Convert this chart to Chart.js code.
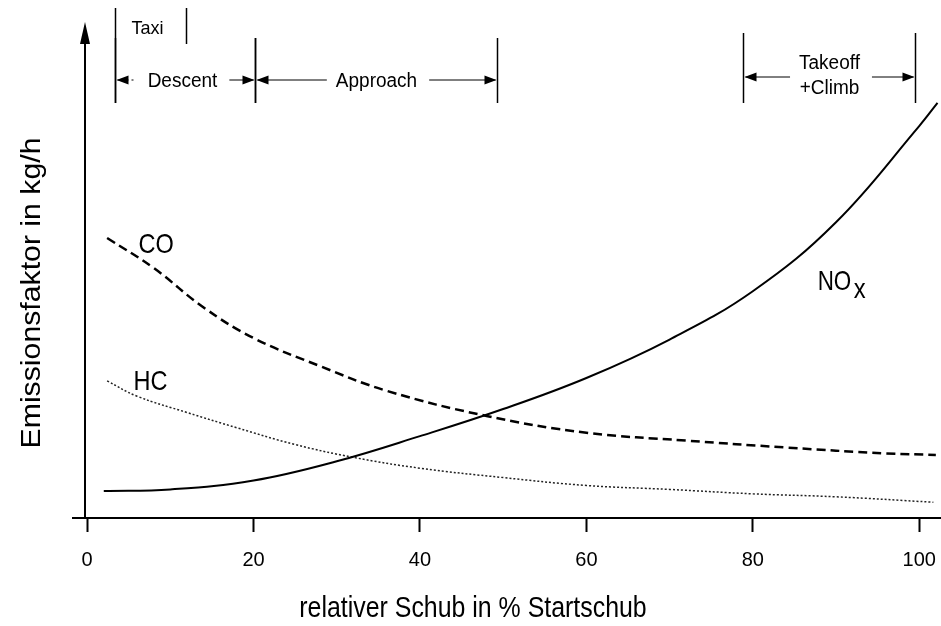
<!DOCTYPE html>
<html>
<head>
<meta charset="utf-8">
<script src="https://cdn.jsdelivr.net/npm/chart.js@4.4.1/dist/chart.umd.min.js"></script>
<style>
  body { margin: 0; background: #fff; }
  #wrap { width: 941px; height: 626px; position: relative; }
</style>
</head>
<body>
<div id="wrap"><canvas id="chart"></canvas></div>
<script>
// relative thrust (% takeoff thrust) vs emission factor (the y axis has no scale)
const NOX_X = [2, 10, 20, 30, 40, 50, 60, 70, 80, 90, 100, 102.2];
const NOX_Y = [5.5, 5.8, 7.6, 11.5, 16.6, 22.1, 28.4, 36.2, 46.0, 60.0, 79.5, 84.2];
const CO_X = [2.4, 8, 14, 20, 28, 36, 48, 60, 72, 84, 96, 102];
const CO_Y = [56.8, 50.7, 42.7, 36.5, 30.8, 25.8, 20.7, 17.3, 15.7, 14.3, 13.1, 12.8];
const HC_X = [2.4, 6, 12, 18, 25, 32, 40, 50, 60, 70, 80, 90, 101.7];
const HC_Y = [27.8, 24.7, 21.4, 18.3, 14.9, 12.3, 10.1, 8.2, 6.6, 5.8, 4.9, 4.3, 3.2];

const X_TICKS = [0, 20, 40, 60, 80, 100];

// flight phases, bounds in % thrust
const PHASE_NAMES = ['Taxi', 'Descent', 'Approach', 'Takeoff|+Climb'];
const PHASE_FROM = [3.4, 3.4, 20.2, 78.8];
const PHASE_TO = [11.9, 20.2, 49.3, 99.5];

const FONT = '"Liberation Sans", Arial, Helvetica, sans-serif';

function toPoints(xs, ys) {
    return xs.map((x, i) => ({ x: x, y: ys[i] }));
}

function drawText(ctx, text, x, y, size, sx, align, baseline) {
    ctx.save();
    ctx.translate(x, y);
    ctx.scale(sx, 1);
    ctx.font = size + 'px ' + FONT;
    ctx.fillStyle = '#000';
    ctx.textAlign = align || 'center';
    ctx.textBaseline = baseline || 'middle';
    ctx.fillText(text, 0, 0);
    ctx.restore();
}

// filled arrow head, tip at (x, y)
function arrowHead(ctx, x, y, dir, len, half) {
    ctx.beginPath();
    if (dir === 'left') {
        ctx.moveTo(x, y); ctx.lineTo(x + len, y - half); ctx.lineTo(x + len, y + half);
    } else if (dir === 'right') {
        ctx.moveTo(x, y); ctx.lineTo(x - len, y - half); ctx.lineTo(x - len, y + half);
    } else {
        ctx.moveTo(x, y); ctx.lineTo(x - half, y + len); ctx.lineTo(x + half, y + len);
    }
    ctx.closePath();
    ctx.fill();
}

function vline(ctx, x, y1, y2) {
    ctx.beginPath();
    ctx.moveTo(x, y1);
    ctx.lineTo(x, y2);
    ctx.stroke();
}

function hline(ctx, x1, x2, y) {
    ctx.beginPath();
    ctx.moveTo(x1, y);
    ctx.lineTo(x2, y);
    ctx.stroke();
}

const decorPlugin = {
    id: 'decor',
    afterDraw(chart) {
        const ctx = chart.ctx;
        const xs = chart.scales.x;
        const ys = chart.scales.y;
        const area = chart.chartArea;
        ctx.save();
        ctx.strokeStyle = '#000';
        ctx.fillStyle = '#000';

        // y axis with arrow
        const ax = Math.round(xs.getPixelForValue(-0.2));
        ctx.lineWidth = 2;
        vline(ctx, ax, area.bottom + 1, area.top + 12);
        arrowHead(ctx, ax, area.top, 'up', 22, 5);

        // phase brackets
        ctx.lineWidth = 1.5;
        const px = v => Math.round(xs.getPixelForValue(v)) + 0.5;
        PHASE_NAMES.forEach((name, i) => {
            const l = px(PHASE_FROM[i]);
            const r = px(PHASE_TO[i]);
            const mid = (l + r) / 2;
            if (name === 'Taxi') {
                vline(ctx, l, 8, 103);
                vline(ctx, r, 8, 44);
                drawText(ctx, name, l + 32, 29, 19, 0.95);
                return;
            }
            const lines = name.split('|');
            const top = lines.length > 1 ? 33 : 38;
            vline(ctx, l, top, 103);
            vline(ctx, r, top, 103);
            const ay = lines.length > 1 ? 77 : 80;
            ctx.font = '20px ' + FONT;
            const w = Math.max(...lines.map(t => ctx.measureText(t).width)) * 0.95;
            const tx = name === 'Descent' ? mid - 3 : mid;
            if (lines.length > 1) {
                drawText(ctx, lines[0], tx, 63, 20, 0.95);
                drawText(ctx, lines[1], tx, 88, 20, 0.95);
            } else {
                drawText(ctx, name, tx, 81, 20, 0.95);
            }
            ctx.lineWidth = 1;
            if (name === 'Descent') {
                // short dashed stub on the left, as in the original
                hline(ctx, l + 2, l + 13, ay);
                hline(ctx, l + 16, l + 18, ay);
            } else {
                hline(ctx, l + 2, tx - w / 2 - 9, ay);
            }
            hline(ctx, tx + w / 2 + 12, r - 2, ay);
            arrowHead(ctx, l + 1, ay, 'left', 12, 4.5);
            arrowHead(ctx, r - 1, ay, 'right', 12, 4.5);
            ctx.lineWidth = 1.5;
        });

        // curve labels
        drawText(ctx, 'CO', xs.getPixelForValue(8.3), ys.getPixelForValue(55.3), 28, 0.84, 'center', 'middle');
        drawText(ctx, 'HC', xs.getPixelForValue(7.6), ys.getPixelForValue(27.6), 28, 0.84, 'center', 'middle');
        const nx = xs.getPixelForValue(87.8);
        const ny = ys.getPixelForValue(46.3);
        drawText(ctx, 'NO', nx, ny, 28, 0.8, 'left', 'alphabetic');
        drawText(ctx, 'x', nx + 36, ny + 8, 28, 0.85, 'left', 'alphabetic');

        // axis titles
        drawText(ctx, 'relativer Schub in % Startschub', 473, 617, 30, 0.83, 'center', 'alphabetic');
        ctx.save();
        ctx.translate(40, 293);
        ctx.rotate(-Math.PI / 2);
        drawText(ctx, 'Emissionsfaktor in kg/h', 0, 0, 28, 1.08, 'center', 'alphabetic');
        ctx.restore();

        ctx.restore();
    }
};

new Chart(document.getElementById('chart'), {
    type: 'line',
    data: {
        datasets: [
            {
                label: 'NOx',
                data: toPoints(NOX_X, NOX_Y),
                borderColor: '#000',
                borderWidth: 2,
                pointRadius: 0,
                tension: 0.4
            },
            {
                label: 'CO',
                data: toPoints(CO_X, CO_Y),
                borderColor: '#000',
                borderWidth: 2.5,
                borderDash: [9, 5],
                pointRadius: 0,
                tension: 0.4
            },
            {
                label: 'HC',
                data: toPoints(HC_X, HC_Y),
                borderColor: '#222',
                borderWidth: 1.5,
                borderDash: [2, 2],
                pointRadius: 0,
                tension: 0.4
            }
        ]
    },
    options: {
        responsive: true,
        maintainAspectRatio: false,
        animation: false,
        layout: { padding: { left: 73, right: 1, top: 22, bottom: 0 } },
        plugins: {
            legend: { display: false },
            tooltip: { enabled: false }
        },
        scales: {
            x: {
                type: 'linear',
                min: -1.7,
                max: 102.5,
                afterBuildTicks: scale => {
                    scale.ticks = X_TICKS.map(v => ({ value: v }));
                },
                afterFit: scale => {
                    scale.height = 108;
                    scale.paddingLeft = 0;
                    scale.paddingRight = 0;
                },
                grid: {
                    display: true,
                    drawOnChartArea: false,
                    drawTicks: true,
                    tickLength: 14,
                    tickWidth: 2,
                    tickColor: '#000'
                },
                border: { display: true, color: '#000', width: 2 },
                ticks: {
                    color: '#000',
                    padding: 16,
                    maxRotation: 0,
                    font: { size: 20, family: FONT }
                }
            },
            y: {
                type: 'linear',
                min: 0,
                max: 100.6,
                display: false
            }
        }
    },
    plugins: [decorPlugin]
});
</script>
</body>
</html>
